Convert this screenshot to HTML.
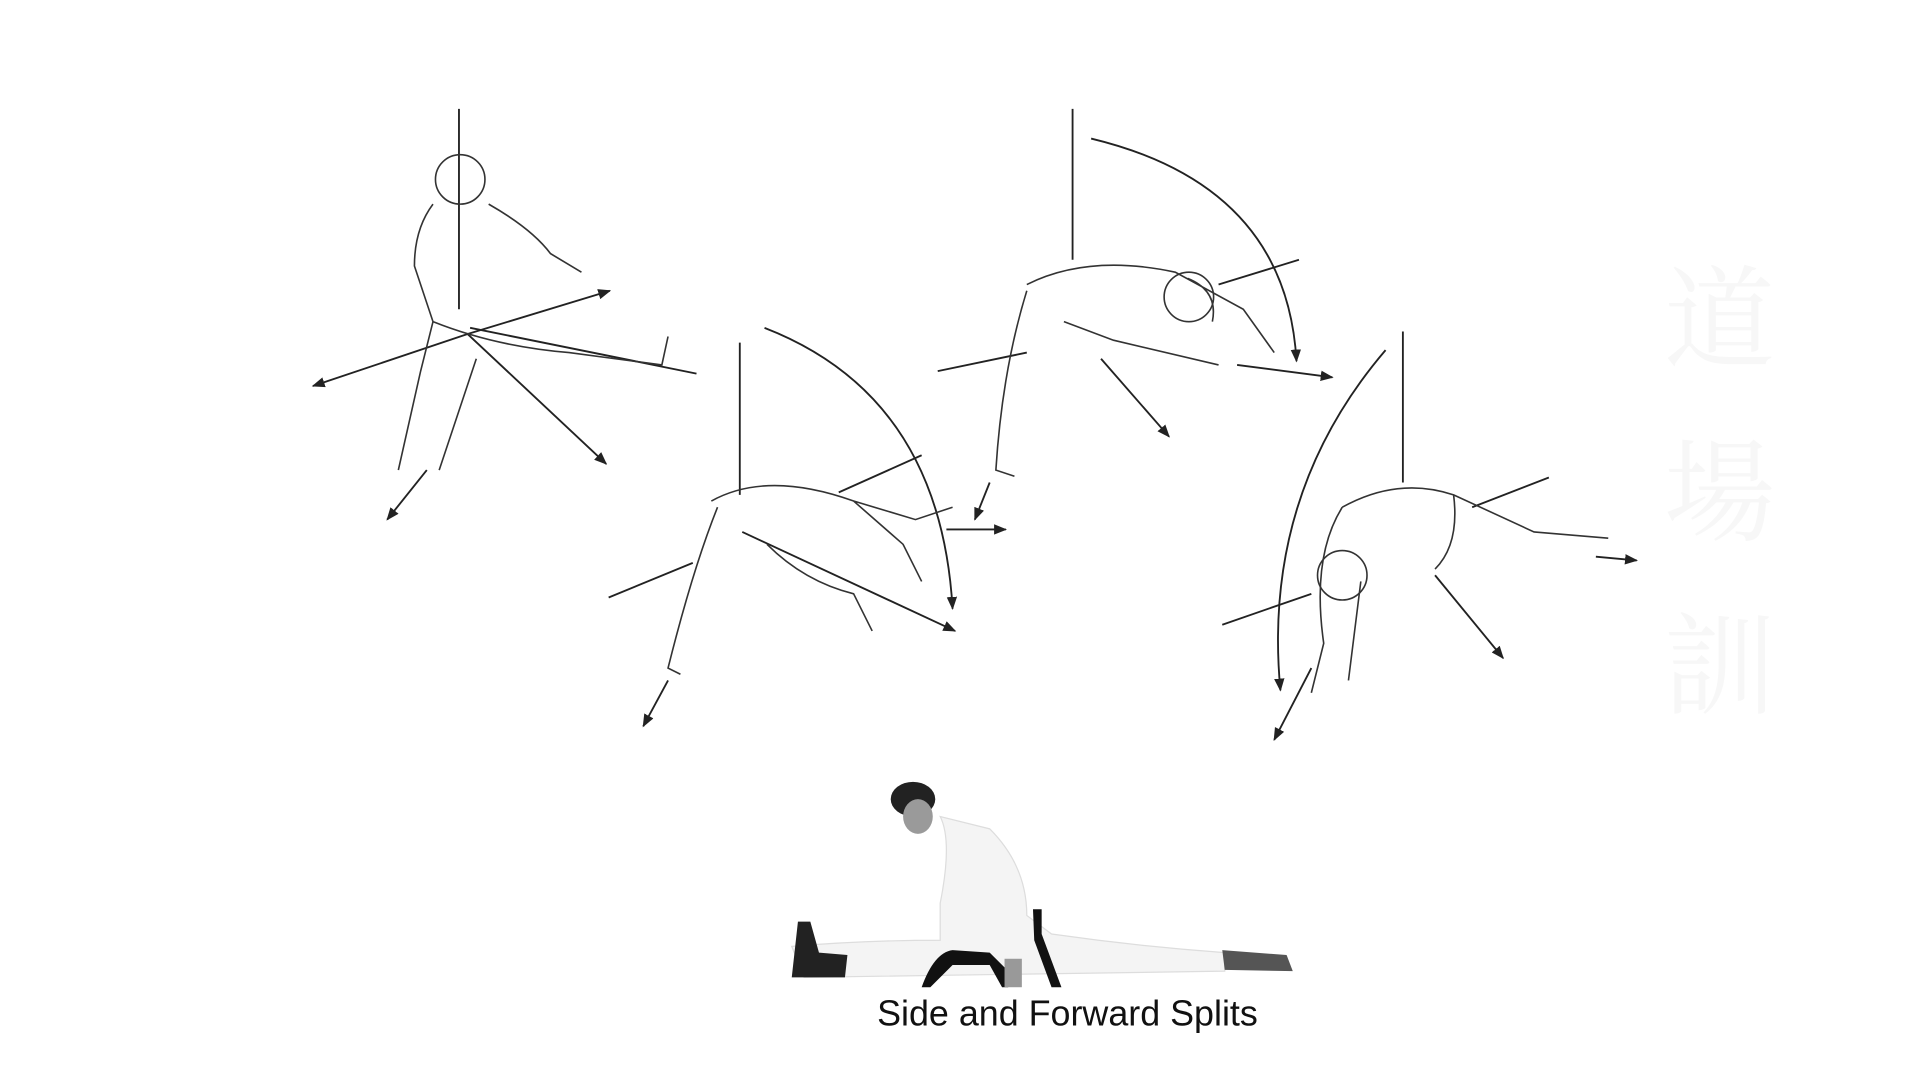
<!DOCTYPE html>
<html><head><meta charset="utf-8"><style>
html,body{margin:0;padding:0;background:#fff;width:1920px;height:1080px;overflow:hidden}
svg{display:block}
</style></head><body>
<svg width="1920" height="1080" viewBox="0 0 1552 873" preserveAspectRatio="none" xmlns="http://www.w3.org/2000/svg">
<defs>
<marker id="a" viewBox="0 0 10 10" refX="9" refY="5" markerWidth="7" markerHeight="7" orient="auto-start-reverse"><path d="M0,1 L10,5 L0,9 z" fill="#222"/></marker>
</defs>
<rect width="1552" height="873" fill="#fff"/>
<g font-family="'Noto Serif CJK SC','Noto Sans CJK SC',serif" fill="#f7f7f7" font-size="90">
<text x="1345" y="290">道</text><text x="1345" y="430">場</text><text x="1345" y="570">訓</text>
</g>
<g stroke="#222" stroke-width="1.5" fill="none">
<line x1="371" y1="88" x2="371" y2="250"/>
<line x1="378" y1="270" x2="493" y2="235" marker-end="url(#a)"/>
<line x1="378" y1="270" x2="253" y2="312" marker-end="url(#a)"/>
<line x1="378" y1="270" x2="490" y2="375" marker-end="url(#a)"/>
<line x1="345" y1="380" x2="313" y2="420" marker-end="url(#a)"/>
<line x1="380" y1="265" x2="563" y2="302"/>
<line x1="598" y1="277" x2="598" y2="400"/>
<path d="M618,265 Q760,320 770,492" marker-end="url(#a)"/>
<line x1="678" y1="398" x2="745" y2="368"/>
<line x1="492" y1="483" x2="560" y2="455"/>
<line x1="600" y1="430" x2="772" y2="510" marker-end="url(#a)"/>
<line x1="540" y1="550" x2="520" y2="587" marker-end="url(#a)"/>
<line x1="765" y1="428" x2="813" y2="428" marker-end="url(#a)"/>
<line x1="867" y1="88" x2="867" y2="210"/>
<path d="M882,112 Q1040,150 1048,292" marker-end="url(#a)"/>
<line x1="985" y1="230" x2="1050" y2="210"/>
<line x1="758" y1="300" x2="830" y2="285"/>
<line x1="890" y1="290" x2="945" y2="353" marker-end="url(#a)"/>
<line x1="1000" y1="295" x2="1077" y2="305" marker-end="url(#a)"/>
<line x1="800" y1="390" x2="788" y2="420" marker-end="url(#a)"/>
<line x1="1134" y1="268" x2="1134" y2="390"/>
<path d="M1120,283 Q1020,400 1035,558" marker-end="url(#a)"/>
<line x1="1190" y1="410" x2="1252" y2="386"/>
<line x1="988" y1="505" x2="1060" y2="480"/>
<line x1="1160" y1="465" x2="1215" y2="532" marker-end="url(#a)"/>
<line x1="1060" y1="540" x2="1030" y2="598" marker-end="url(#a)"/>
<line x1="1290" y1="450" x2="1323" y2="453" marker-end="url(#a)"/>
</g>
<g stroke="#333" stroke-width="1.3" fill="none">
<circle cx="372" cy="145" r="20"/>
<path d="M350,165 Q335,185 335,215 L350,260 L340,300 L322,380 M395,165 Q430,185 445,205 L470,220 M350,260 Q400,280 460,285 L535,295 L540,272 M385,290 L355,380"/>
<path d="M575,405 Q620,380 690,405 L730,440 L745,470 M580,410 Q560,460 540,540 L550,545 M620,440 Q650,470 690,480 L705,510 M690,405 L740,420 L770,410"/>
<path d="M830,230 Q880,205 950,220 L1005,250 L1030,285 M830,235 Q810,300 805,380 L820,385 M860,260 L900,275 L985,295 M960,225 Q985,235 980,260"/>
<circle cx="961" cy="240" r="20"/>
<path d="M1085,410 Q1130,385 1175,400 L1240,430 L1300,435 M1085,410 Q1060,450 1070,520 L1060,560 M1100,470 L1090,550 M1175,400 Q1180,440 1160,460"/>
<circle cx="1085" cy="465" r="20"/>
</g>
<g>
<path d="M640,765 Q700,760 760,760 L760,730 Q770,680 760,660 L800,670 Q830,700 830,740 L850,755 Q920,765 990,770 L990,785 L650,790 Z" fill="#f4f4f4" stroke="#ddd"/>
<path d="M645,745 L655,745 L662,770 L685,772 L683,790 L640,790 Z" fill="#222"/>
<path d="M988,768 L1040,772 L1045,785 L990,784 Z" fill="#555"/>
<ellipse cx="738" cy="646" rx="18" ry="14" fill="#222"/>
<ellipse cx="742" cy="660" rx="12" ry="14" fill="#9a9a9a"/>
<path d="M745,798 Q755,770 770,768 L800,770 L815,785 L815,798 L810,798 L800,780 L770,780 L752,798 Z" fill="#111"/>
<path d="M835,735 L842,735 L842,755 L858,798 L850,798 L836,760 Z" fill="#111"/>
<rect x="812" y="775" width="14" height="23" fill="#999"/>
</g>
<text x="709" y="835" font-family="'Liberation Sans',sans-serif" font-size="29" fill="#111" transform="translate(0,-6)">Side and Forward Splits</text>
</svg>
</body></html>
